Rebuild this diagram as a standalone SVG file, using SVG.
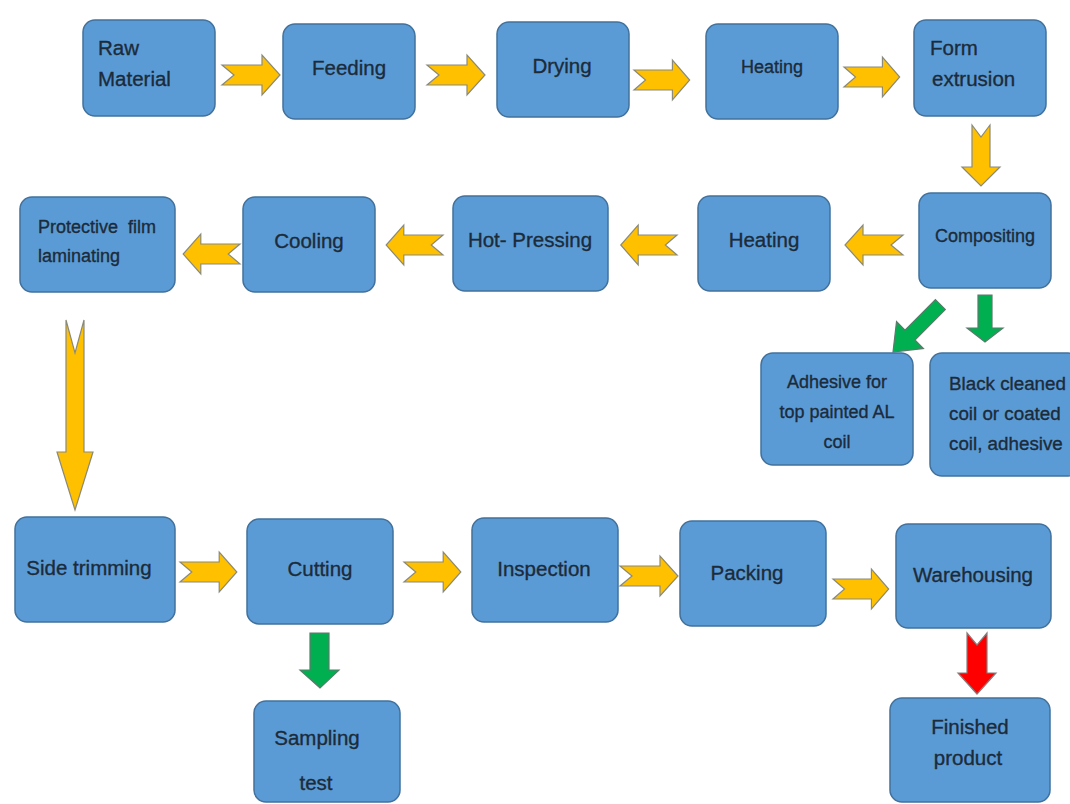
<svg xmlns="http://www.w3.org/2000/svg" xmlns:xlink="http://www.w3.org/1999/xlink" width="1070" height="804" viewBox="0 0 1070 804">
<style>
.box{fill:#5b9bd5;stroke:#41719c;stroke-width:1.5}
.t{font-family:"Liberation Sans",Arial,sans-serif;font-size:20.5px;fill:#1c2b3a;stroke:#1c2b3a;stroke-width:0.35}
.c{text-anchor:middle}
.s{font-size:18px}
.b{font-size:18.8px}
.ya{fill:#ffc000;stroke:#8a8a7a;stroke-width:1.2;stroke-linejoin:miter}
.ga{fill:#00b050;stroke:#5a7a6a;stroke-width:1.2}
.ra{fill:#ff0000;stroke:#8a7a7a;stroke-width:1.2}
</style>
<defs>
<path id="rarrow" d="M0,-10 H40 V-20 L58,0 L40,20 V10 H0 L12,0 Z"/>
</defs>
<rect width="1070" height="804" fill="#ffffff"/>
<g id="connectors">
<use xlink:href="#rarrow" class="ya" transform="translate(222,75)"/>
<use xlink:href="#rarrow" class="ya" transform="translate(427,75)"/>
<use xlink:href="#rarrow" class="ya" transform="translate(634,80) scale(0.96,1)"/>
<use xlink:href="#rarrow" class="ya" transform="translate(844,77) scale(0.96,1)"/>
<path class="ya" d="M972,125 L981,137 L990,125 V167 H1000 L981,186 L962,167 H972 Z"/>
<use xlink:href="#rarrow" class="ya" transform="translate(903,245) scale(-1,1)"/>
<use xlink:href="#rarrow" class="ya" transform="translate(677,245) scale(-0.97,1)"/>
<use xlink:href="#rarrow" class="ya" transform="translate(443,245) scale(-0.98,1)"/>
<use xlink:href="#rarrow" class="ya" transform="translate(240,254) scale(-0.98,1)"/>
<path class="ga" d="M978,295 H992 V328 H1003 L985,342 L967,328 H978 Z"/>
<path class="ga" transform="translate(893,352) rotate(45)" d="M-7,-67 H7 V-24 H19 L0,0 L-19,-24 H-7 Z"/>
<path class="ya" d="M66,320 L75,353 L84,320 V452 H93 L75,510 L57,452 H66 Z"/>
<use xlink:href="#rarrow" class="ya" transform="translate(180,572) scale(0.98,1)"/>
<use xlink:href="#rarrow" class="ya" transform="translate(404,572) scale(0.98,1)"/>
<use xlink:href="#rarrow" class="ya" transform="translate(620,576)"/>
<use xlink:href="#rarrow" class="ya" transform="translate(833,589) scale(0.96,1)"/>
<path class="ga" d="M310,633 H329 V670 H339 L320,688 L300,670 H310 Z"/>
<path class="ra" d="M967,633 L977,645 L987,633 V673 H996 L977,694 L958,673 H967 Z"/>
</g>
<g id="raw-material"><rect class="box" x="83" y="20" width="132" height="96" rx="12"/><text class="t" x="98" y="55">Raw</text><text class="t" x="98" y="86">Material</text></g>
<g id="feeding"><rect class="box" x="283" y="24" width="132" height="95" rx="12"/><text class="t c" x="349" y="75">Feeding</text></g>
<g id="drying"><rect class="box" x="497" y="22" width="132" height="95" rx="12"/><text class="t c" x="562" y="73">Drying</text></g>
<g id="heating1"><rect class="box" x="706" y="24" width="132" height="95" rx="12"/><text class="t c s" x="772" y="73">Heating</text></g>
<g id="form-extrusion"><rect class="box" x="914" y="20" width="132" height="96" rx="12"/><text class="t" x="930" y="55">Form</text><text class="t" x="932" y="86">extrusion</text></g>
<g id="compositing"><rect class="box" x="919" y="193" width="132" height="95" rx="12"/><text class="t c s" x="985" y="242">Compositing</text></g>
<g id="heating2"><rect class="box" x="698" y="196" width="132" height="95" rx="12"/><text class="t c" x="764" y="247">Heating</text></g>
<g id="hot-pressing"><rect class="box" x="453" y="196" width="155" height="95" rx="12"/><text class="t c" x="530" y="247">Hot- Pressing</text></g>
<g id="cooling"><rect class="box" x="243" y="197" width="132" height="95" rx="12"/><text class="t c" x="309" y="248">Cooling</text></g>
<g id="protective-film"><rect class="box" x="20" y="197" width="155" height="95" rx="12"/><text class="t s" x="38" y="233" xml:space="preserve">Protective  film</text><text class="t s" x="38" y="262">laminating</text></g>
<g id="adhesive-top"><rect class="box" x="761" y="353" width="152" height="112" rx="12"/><text class="t c s" x="837" y="388">Adhesive for</text><text class="t c s" x="837" y="418">top painted AL</text><text class="t c s" x="837" y="448">coil</text></g>
<g id="black-cleaned"><rect class="box" x="930" y="353" width="150" height="123" rx="12"/><text class="t b" x="949" y="390">Black cleaned</text><text class="t b" x="949" y="420">coil or coated</text><text class="t b" x="949" y="450">coil, adhesive</text></g>
<g id="side-trimming"><rect class="box" x="15" y="517" width="160" height="105" rx="12"/><text class="t c" x="89" y="575">Side trimming</text></g>
<g id="cutting"><rect class="box" x="247" y="519" width="146" height="105" rx="12"/><text class="t c" x="320" y="576">Cutting</text></g>
<g id="inspection"><rect class="box" x="472" y="518" width="146" height="104" rx="12"/><text class="t c" x="544" y="576">Inspection</text></g>
<g id="packing"><rect class="box" x="680" y="521" width="146" height="105" rx="12"/><text class="t c" x="747" y="580">Packing</text></g>
<g id="warehousing"><rect class="box" x="896" y="524" width="155" height="104" rx="12"/><text class="t c" x="973" y="582">Warehousing</text></g>
<g id="sampling-test"><rect class="box" x="254" y="701" width="146" height="101" rx="12"/><text class="t c" x="317" y="745">Sampling</text><text class="t c" x="316" y="790">test</text></g>
<g id="finished-product"><rect class="box" x="890" y="698" width="160" height="104" rx="12"/><text class="t c" x="970" y="734">Finished</text><text class="t c" x="968" y="765">product</text></g>
</svg>
